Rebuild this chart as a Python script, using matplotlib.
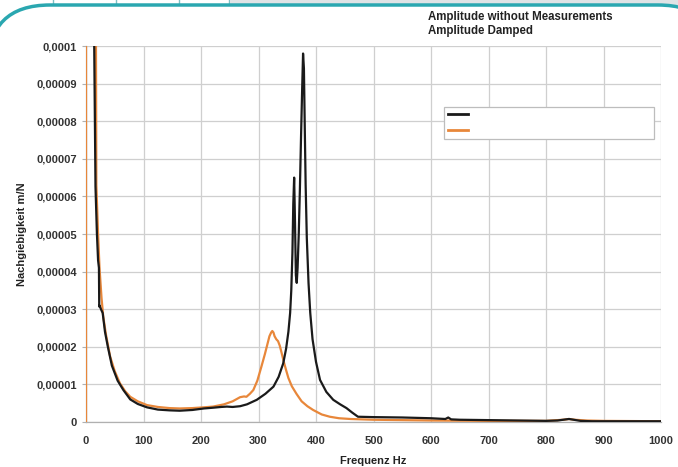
import numpy as np
import matplotlib
matplotlib.use('Agg')
import matplotlib.pyplot as plt
from matplotlib.patches import FancyBboxPatch, Rectangle
from matplotlib.lines import Line2D

plt.rcParams['font.family'] = ['Liberation Sans', 'DejaVu Sans']

# Amplitude without Measurements (black)
f_black = [14, 16.5, 19, 21, 22.5, 23, 23.5, 26, 29, 33, 38, 45, 55, 65, 77, 90, 106, 125,
           145, 163, 185, 205, 221, 235, 245, 255, 268, 280, 297, 312, 326, 335, 343, 348,
           352, 355, 357, 359, 360.5, 362, 363.5, 365, 366.5, 368, 370, 372, 374, 376,
           377.5, 379, 380.5, 382, 384, 387, 390, 394, 400, 407, 418, 430, 442, 453, 463,
           473, 500, 550, 600, 625, 630, 635, 650, 700, 800, 820, 840, 860, 880, 900,
           950, 1000]
y_black = [10.5, 6.26, 5.0, 4.3, 4.1, 3.07, 3.1, 3.0, 2.9, 2.4, 2.0, 1.5, 1.1, 0.85, 0.6,
           0.48, 0.39, 0.33, 0.31, 0.3, 0.32, 0.36, 0.38, 0.40, 0.41, 0.40, 0.42, 0.47,
           0.59, 0.75, 0.94, 1.2, 1.56, 1.95, 2.4, 2.9, 3.5, 4.5, 5.8, 6.5, 5.3, 3.9, 3.7,
           4.1, 5.0, 6.2, 7.6, 8.9, 9.8, 9.4, 7.8, 6.3, 4.9, 3.7, 2.9, 2.2, 1.6, 1.12, 0.8,
           0.59, 0.47, 0.37, 0.25, 0.14, 0.13, 0.12, 0.1, 0.08, 0.12, 0.07, 0.06, 0.05,
           0.03, 0.04, 0.08, 0.03, 0.02, 0.02, 0.02, 0.02]

# Amplitude Damped (orange)
f_orange = [0, 0, 17, 18, 21, 23.5, 27, 30, 35, 42, 50, 59, 68, 77, 90, 106, 125, 145, 163,
            185, 205, 221, 240, 255, 268, 275, 279, 285, 291, 298, 305, 311, 316, 319, 322,
            324, 326, 328, 331, 334, 337, 340, 344, 348, 352, 358, 366, 375, 385, 395, 410,
            424, 440, 460, 500, 600, 700, 800, 830, 840, 850, 870, 900, 1000]
y_orange = [0, 12, 12, 6.3, 5.0, 4.1, 3.3, 2.8, 2.3, 1.74, 1.35, 1.03, 0.82, 0.67, 0.55,
            0.45, 0.4, 0.37, 0.36, 0.37, 0.39, 0.41, 0.47, 0.55, 0.66, 0.68, 0.67, 0.75,
            0.85, 1.1, 1.47, 1.8, 2.1, 2.28, 2.38, 2.42, 2.38, 2.28, 2.2, 2.15, 2.03, 1.85,
            1.6, 1.38, 1.17, 0.95, 0.75, 0.55, 0.42, 0.32, 0.2, 0.14, 0.1, 0.08, 0.06,
            0.04, 0.03, 0.03, 0.06, 0.08, 0.06, 0.04, 0.03, 0.02]

x_ticks = list(range(0, 1001, 100))
y_ticks = [i * 1e-5 for i in range(11)]

W, H = 678, 467
fig = plt.figure(figsize=(W / 100, H / 100), dpi=100)

# decorative frame of the scanned page
teal = '#2aa7b0'
fig.patches.append(Rectangle((230 / W, 1 - 5 / H), 1, 5 / H, transform=fig.transFigure,
                             facecolor='#dfe3e5', edgecolor='none', zorder=-3))
for xp in [53, 116, 179, 229]:
    fig.lines.append(Line2D([xp / W, xp / W], [1 - 5 / H, 1], transform=fig.transFigure,
                            color='#7fbfc4', lw=1, zorder=-3))
fig.patches.append(FancyBboxPatch((-12, -60), 732, 60 + H - 5, transform=None,
                                  boxstyle='round,pad=0,rounding_size=62',
                                  facecolor='white', edgecolor=teal, lw=2.5, zorder=-2))

ax = fig.add_axes([86 / W, 1 - 422 / H, 575 / W, 376 / H])
ax.set_facecolor('none')

ax.plot(f_orange, np.array(y_orange) * 1e-5, color='#e8873a', lw=1.6, zorder=3)
ax.plot(f_black, np.array(y_black) * 1e-5, color='#1a1a1a', lw=1.6, zorder=4)

ax.set_xlim(0, 1000)
ax.set_ylim(0, 1e-4)
ax.set_xticks(x_ticks)
ax.set_yticks(y_ticks)
ax.set_xticklabels([str(v) for v in x_ticks])
ylabels = ['0'] + [('%.5f' % v).rstrip('0').replace('.', ',') for v in y_ticks[1:]]
ax.set_yticklabels(ylabels)
ax.tick_params(axis='both', labelsize=8, colors='#b0b0b0', labelcolor='#333333',
               length=3, width=0.8)
ax.tick_params(axis='x', length=0, pad=10)
for lab in ax.get_xticklabels() + ax.get_yticklabels():
    lab.set_fontweight('bold')

ax.grid(True, color='#cfcfcf', lw=0.9)
ax.set_axisbelow(True)
for s in ['top', 'right']:
    ax.spines[s].set_visible(False)
for s in ['left', 'bottom']:
    ax.spines[s].set_color('#b0b0b0')
    ax.spines[s].set_linewidth(0.9)

ax.set_xlabel('Frequenz Hz', fontsize=8, fontweight='bold', color='#222222', labelpad=7)
ax.set_ylabel('Nachgiebigkeit m/N', fontsize=8, fontweight='bold', color='#222222',
              labelpad=7)

handles = [Line2D([], [], color='#1a1a1a', lw=2), Line2D([], [], color='#e8873a', lw=2)]
leg = ax.legend(handles, [' ', ' '], loc='lower left',
                bbox_to_anchor=(0.623, 0.753, 0.365, 0.095), mode='expand',
                fancybox=False, edgecolor='#bdbdbd', framealpha=1, fontsize=8,
                handlelength=1.8, borderpad=0.3, labelspacing=0.5, handletextpad=0.5,
                borderaxespad=0)
leg.get_frame().set_linewidth(0.9)

fig.text(428 / W, 1 - 17 / H, 'Amplitude without Measurements', fontsize=8.3,
         fontweight='bold', color='#222222', va='center')
fig.text(428 / W, 1 - 31 / H, 'Amplitude Damped', fontsize=8.3,
         fontweight='bold', color='#222222', va='center')

fig.savefig('out.png', dpi=100)
